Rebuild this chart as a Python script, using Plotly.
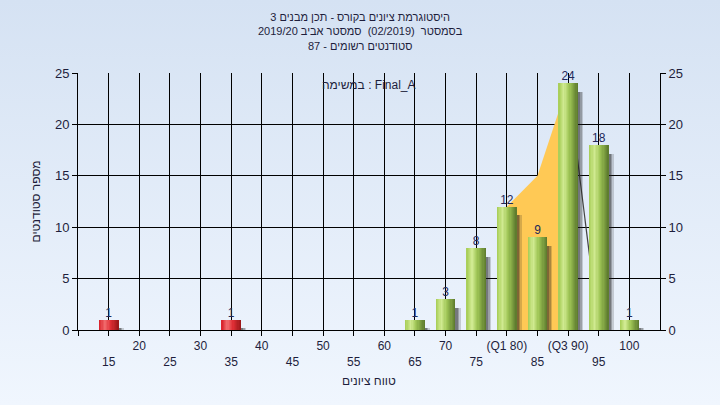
import base64
import plotly.graph_objects as go

# ---------------- data ----------------
grades = [15, 35, 65, 70, 75, 80, 85, 90, 95, 100]
counts = [1, 1, 1, 3, 8, 12, 9, 24, 18, 1]
fail_limit = 55

tick_values = [10, 15, 20, 25, 30, 35, 40, 45, 50, 55, 60, 65, 70, 75, 80, 85, 90, 95, 100]
tick_labels = ["", "15", "20", "25", "30", "35", "40", "45", "50", "55", "60",
               "65", "70", "75", "(Q1 80)", "85", "(Q3 90)", "95", "100"]

band_x = [80, 85, 90]
band_y = [12, 15, 24]
tail_x = [90, 95]
tail_y = [24, 0]

title_lines = ["היסטוגרמת ציונים בקורס - תכן מבנים 3",
               "בסמסטר  (02/2019)  סמסטר אביב 2019/20",
               "סטודנטים רשומים - 87"]
task_label = "במשימה : Final_A"
x_title = "טווח ציונים"
y_title = "מספר סטודנטים"

# ---------------- style helpers ----------------
FONT = "Liberation Sans, DejaVu Sans, Arial, sans-serif"
TXT = "#1e1e3c"


def mix(c1, c2, t):
    return tuple(int(round(a + (b - a) * t)) for a, b in zip(c1, c2))


def grad(stops, t):
    for (p0, c0), (p1, c1) in zip(stops, stops[1:]):
        if p0 <= t <= p1:
            return mix(c0, c1, (t - p0) / (p1 - p0))
    return stops[-1][1]


green_stops = [(0.0, (165, 204, 84)), (0.28, (208, 234, 145)), (0.55, (160, 198, 86)), (1.0, (90, 120, 44))]
red_stops = [(0.0, (215, 30, 38)), (0.3, (242, 110, 112)), (0.6, (222, 45, 52)), (1.0, (150, 22, 24))]

ticktext = [("<br>" + t) if i % 2 == 1 else t for i, t in enumerate(tick_labels)]

fig = go.Figure()

# quartile band & tail (base axis -> drawn under the bars)
fig.add_trace(go.Scatter(x=band_x, y=band_y, mode="lines", fill="tozeroy",
                         fillcolor="#ffc955", line=dict(color="#ffc955", width=0),
                         hoverinfo="skip", showlegend=False, xaxis="x", yaxis="y"))
fig.add_trace(go.Scatter(x=tail_x, y=tail_y, mode="lines",
                         line=dict(color="#444444", width=1.2),
                         hoverinfo="skip", showlegend=False, xaxis="x", yaxis="y"))

BAR_W = 3.2
# soft shadows
for dx, alpha in [(0.85, 0.18), (0.6, 0.25), (0.35, 0.3)]:
    fig.add_trace(go.Bar(x=grades, y=[c - 0.35 for c in counts], base=-0.5,
                         width=BAR_W, offset=-BAR_W / 2 + dx,
                         marker=dict(color="rgba(30,30,30,%.2f)" % alpha, line=dict(width=0)),
                         hoverinfo="skip", showlegend=False, xaxis="x", yaxis="y2"))

# cylinder-like gradient strips
N = 16
sw = BAR_W / N
for i in range(N):
    t = (i + 0.5) / N
    cols = []
    for g in grades:
        c = grad(red_stops if g < fail_limit else green_stops, t)
        cols.append("rgb(%d,%d,%d)" % c)
    fig.add_trace(go.Bar(x=grades, y=counts, width=sw * 1.08, offset=-BAR_W / 2 + i * sw,
                         marker=dict(color=cols, line=dict(width=0)),
                         hoverinfo="skip", showlegend=False, xaxis="x", yaxis="y2"))

# value labels
fig.add_trace(go.Scatter(x=grades, y=counts, mode="text", text=[str(c) for c in counts],
                         textposition="top center", textfont=dict(size=12, color="#22285a", family=FONT),
                         cliponaxis=False, hoverinfo="skip", showlegend=False,
                         xaxis="x", yaxis="y2"))

# background gradient
svg = ('<svg xmlns="http://www.w3.org/2000/svg" width="720" height="405">'
       '<defs><linearGradient id="g" x1="0" y1="0" x2="0" y2="1">'
       '<stop offset="0" stop-color="#d5e2f3"/><stop offset="1" stop-color="#f0f6fe"/>'
       '</linearGradient></defs><rect width="720" height="405" fill="url(#g)"/></svg>')
src = "data:image/svg+xml;base64," + base64.b64encode(svg.encode()).decode()

L, R, T, B = 78, 60, 73, 75
pw, ph = 720 - L - R, 405 - T - B

axis_common = dict(range=[0, 25], tickvals=[0, 5, 10, 15, 20, 25], ticks="outside", ticklen=5,
                   tickcolor="black", showline=True, linecolor="black", linewidth=1,
                   tickfont=dict(size=13, color=TXT, family=FONT), zeroline=False,
                   fixedrange=True, automargin=False)

fig.update_layout(
    width=720, height=405,
    margin=dict(l=L, r=R, t=T, b=B, autoexpand=False),
    paper_bgcolor="#e3ecf8",
    plot_bgcolor="#b3b3b3",
    barmode="overlay",
    bargap=0,
    hovermode=False,
    font=dict(family=FONT, color=TXT),
    xaxis=dict(range=[10, 105], tickvals=tick_values, ticktext=ticktext, ticks="outside",
               ticklen=5, tickcolor="black", showline=True, linecolor="black", linewidth=1,
               showgrid=True, gridcolor="black", gridwidth=1, zeroline=False, automargin=False,
               tickfont=dict(size=12, color=TXT, family=FONT), tickangle=0, fixedrange=True),
    yaxis=dict(**axis_common, showgrid=True, gridcolor="black", gridwidth=1),
    yaxis2=dict(**axis_common, overlaying="y", side="right", showgrid=False),
    images=[dict(source=src, xref="paper", yref="paper", x=-L / pw, y=1 + T / ph,
                 sizex=720 / pw, sizey=405 / ph, sizing="stretch", layer="below",
                 xanchor="left", yanchor="top")],
    annotations=[
        dict(text="<br>".join(title_lines), xref="paper", yref="paper",
             x=(360 - L) / pw, y=1 + (T - 9) / ph, showarrow=False,
             xanchor="center", yanchor="top", align="center",
             font=dict(size=11, color=TXT, family=FONT)),
        dict(text=task_label, xref="paper", yref="paper", x=0.5, y=(ph - 12) / ph,
             showarrow=False, xanchor="center", yanchor="middle",
             font=dict(size=12, color=TXT, family=FONT)),
        dict(text=x_title, xref="paper", yref="paper", x=0.5, y=-(381 - (405 - B)) / ph,
             showarrow=False, xanchor="center", yanchor="middle",
             font=dict(size=12, color=TXT, family=FONT)),
        dict(text=y_title, xref="paper", yref="paper", x=-(L - 35) / pw, y=0.5,
             textangle=-90, showarrow=False, xanchor="center", yanchor="middle",
             font=dict(size=12, color=TXT, family=FONT)),
    ],
)

fig.write_html("out.html", config={"displayModeBar": False, "staticPlot": True},
               post_script="document.body.style.margin='0';")
